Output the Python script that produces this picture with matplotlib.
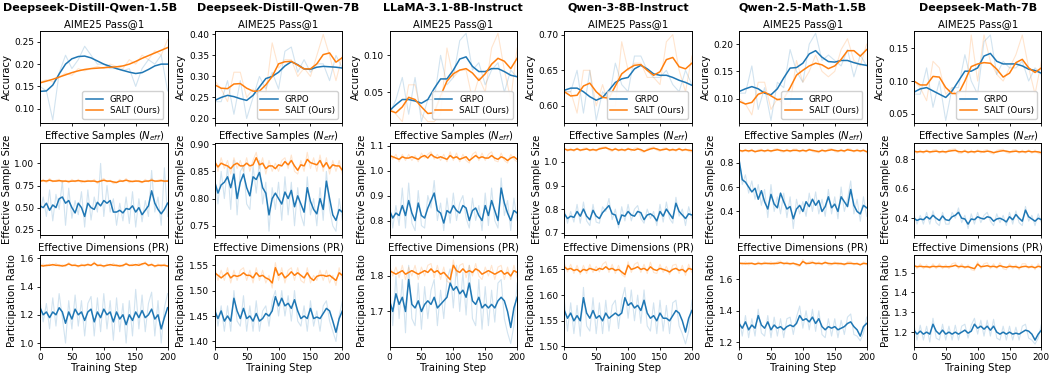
import numpy as np
import matplotlib
matplotlib.use("Agg")
import matplotlib.pyplot as plt

# ---------------------------------------------------------------- data
models = ["Deepseek-Distill-Qwen-1.5B", "Deepseek-Distill-Qwen-7B", "LLaMA-3.1-8B-Instruct",
          "Qwen-3-8B-Instruct", "Qwen-2.5-Math-1.5B", "Deepseek-Math-7B"]
row_titles = ["AIME25 Pass@1", "Effective Samples ($N_{eff}$)", "Effective Dimensions (PR)"]
row_ylabels = ["Accuracy", "Effective Sample Size", "Participation Ratio"]

eval_steps = list(range(0, 201, 10))   # AIME evaluated every 10 steps
train_steps = list(range(0, 201, 5))   # training metrics, sampled every 5 steps

# --- Deepseek-Distill-Qwen-1.5B
ds15_aime_grpo_raw = [0.15, 0.14, 0.075, 0.18, 0.22, 0.19, 0.21, 0.24, 0.22, 0.20, 0.20, 0.19, 0.19, 0.185, 0.19, 0.15, 0.19, 0.21, 0.20, 0.22, 0.14]
ds15_aime_grpo = [0.139, 0.140, 0.153, 0.178, 0.200, 0.212, 0.217, 0.218, 0.214, 0.207, 0.200, 0.195, 0.190, 0.186, 0.182, 0.179, 0.181, 0.188, 0.196, 0.200, 0.200]
ds15_aime_salt_raw = [0.16, 0.165, 0.16, 0.17, 0.18, 0.175, 0.19, 0.185, 0.19, 0.195, 0.19, 0.20, 0.195, 0.19, 0.21, 0.20, 0.22, 0.21, 0.23, 0.22, 0.255]
ds15_aime_salt = [0.158, 0.162, 0.166, 0.171, 0.176, 0.181, 0.185, 0.188, 0.190, 0.191, 0.192, 0.193, 0.194, 0.196, 0.200, 0.206, 0.213, 0.219, 0.225, 0.231, 0.237]
ds15_neff_grpo_raw = [0.45, 0.62, 0.40, 0.70, 0.35, 0.65, 0.48, 0.80, 0.30, 0.72, 0.38, 0.58, 0.42, 0.68, 0.28, 0.70, 0.36, 0.62, 0.45, 1.00, 0.40, 0.75, 0.45, 0.60, 0.30, 0.55, 0.35, 0.62, 0.32, 0.68, 0.28, 0.60, 0.34, 0.58, 0.40, 0.92, 0.45, 0.62, 0.30, 0.95, 0.40]
ds15_neff_grpo = [0.52, 0.50, 0.55, 0.47, 0.53, 0.50, 0.60, 0.62, 0.55, 0.58, 0.50, 0.44, 0.55, 0.50, 0.40, 0.55, 0.50, 0.48, 0.56, 0.52, 0.58, 0.55, 0.58, 0.45, 0.45, 0.47, 0.44, 0.49, 0.48, 0.52, 0.45, 0.50, 0.42, 0.47, 0.52, 0.69, 0.55, 0.48, 0.43, 0.48, 0.55]
ds15_neff_salt_raw = [0.79, 0.82, 0.78, 0.83, 0.79, 0.81, 0.82, 0.78, 0.81, 0.78, 0.82, 0.79, 0.82, 0.78, 0.80, 0.81, 0.79, 0.82, 0.77, 0.81, 0.83, 0.79, 0.81, 0.77, 0.78, 0.82, 0.79, 0.83, 0.78, 0.80, 0.81, 0.79, 0.78, 0.82, 0.79, 0.83, 0.79, 0.81, 0.82, 0.79, 0.81]
ds15_neff_salt = [0.80, 0.805, 0.80, 0.81, 0.80, 0.80, 0.805, 0.80, 0.80, 0.795, 0.80, 0.80, 0.805, 0.80, 0.795, 0.80, 0.80, 0.80, 0.79, 0.80, 0.81, 0.80, 0.80, 0.79, 0.785, 0.80, 0.80, 0.81, 0.80, 0.795, 0.80, 0.80, 0.79, 0.80, 0.80, 0.81, 0.80, 0.80, 0.805, 0.80, 0.80]
ds15_pr_grpo_raw = [1.30, 1.15, 1.28, 1.10, 1.32, 1.12, 1.35, 1.18, 1.00, 1.30, 1.10, 1.34, 1.12, 1.30, 1.05, 1.28, 1.33, 1.05, 1.32, 1.08, 1.35, 1.10, 1.30, 1.02, 1.32, 1.08, 1.28, 1.00, 1.30, 1.05, 1.38, 1.10, 1.34, 1.08, 1.28, 1.36, 1.05, 1.30, 1.00, 1.25, 1.35]
ds15_pr_grpo = [1.25, 1.20, 1.22, 1.18, 1.22, 1.20, 1.25, 1.22, 1.14, 1.22, 1.17, 1.24, 1.20, 1.22, 1.16, 1.22, 1.24, 1.15, 1.22, 1.18, 1.24, 1.20, 1.22, 1.15, 1.22, 1.17, 1.20, 1.13, 1.20, 1.16, 1.22, 1.18, 1.23, 1.18, 1.20, 1.24, 1.17, 1.20, 1.10, 1.18, 1.25]
ds15_pr_salt_raw = [1.54, 1.56, 1.54, 1.56, 1.545, 1.565, 1.54, 1.555, 1.54, 1.57, 1.545, 1.56, 1.535, 1.56, 1.54, 1.565, 1.545, 1.575, 1.54, 1.56, 1.535, 1.56, 1.545, 1.565, 1.54, 1.555, 1.54, 1.57, 1.545, 1.56, 1.545, 1.565, 1.55, 1.575, 1.54, 1.565, 1.535, 1.56, 1.54, 1.56, 1.54]
ds15_pr_salt = [1.55, 1.545, 1.55, 1.55, 1.555, 1.55, 1.55, 1.545, 1.55, 1.56, 1.55, 1.55, 1.545, 1.55, 1.55, 1.555, 1.55, 1.565, 1.55, 1.55, 1.545, 1.55, 1.555, 1.55, 1.55, 1.545, 1.55, 1.56, 1.55, 1.55, 1.555, 1.55, 1.56, 1.565, 1.55, 1.555, 1.545, 1.55, 1.55, 1.55, 1.545]

# --- Deepseek-Distill-Qwen-7B
ds7_aime_grpo_raw = [0.24, 0.24, 0.29, 0.21, 0.29, 0.20, 0.25, 0.30, 0.27, 0.31, 0.27, 0.36, 0.37, 0.31, 0.34, 0.31, 0.33, 0.33, 0.29, 0.35, 0.32]
ds7_aime_grpo = [0.243, 0.250, 0.255, 0.252, 0.247, 0.243, 0.255, 0.275, 0.295, 0.300, 0.310, 0.325, 0.335, 0.328, 0.318, 0.317, 0.322, 0.324, 0.323, 0.322, 0.320]
ds7_aime_salt_raw = [0.29, 0.27, 0.24, 0.31, 0.31, 0.25, 0.27, 0.25, 0.26, 0.38, 0.32, 0.34, 0.34, 0.30, 0.32, 0.30, 0.35, 0.40, 0.35, 0.29, 0.35]
ds7_aime_salt = [0.280, 0.272, 0.271, 0.282, 0.283, 0.272, 0.265, 0.265, 0.280, 0.300, 0.330, 0.335, 0.336, 0.327, 0.318, 0.318, 0.330, 0.352, 0.356, 0.334, 0.345]
ds7_neff_grpo_raw = [0.84, 0.79, 0.85, 0.80, 0.86, 0.78, 0.87, 0.77, 0.85, 0.86, 0.79, 0.78, 0.86, 0.81, 0.87, 0.79, 0.83, 0.74, 0.82, 0.78, 0.83, 0.76, 0.84, 0.77, 0.83, 0.75, 0.82, 0.77, 0.75, 0.84, 0.77, 0.80, 0.75, 0.82, 0.76, 0.85, 0.78, 0.75, 0.74, 0.80, 0.76]
ds7_neff_grpo = [0.83, 0.81, 0.825, 0.83, 0.84, 0.82, 0.845, 0.80, 0.83, 0.845, 0.82, 0.805, 0.84, 0.835, 0.848, 0.82, 0.81, 0.77, 0.80, 0.81, 0.80, 0.79, 0.812, 0.80, 0.815, 0.785, 0.805, 0.79, 0.775, 0.82, 0.795, 0.78, 0.772, 0.80, 0.78, 0.832, 0.80, 0.77, 0.76, 0.78, 0.775]
ds7_neff_salt_raw = [0.875, 0.85, 0.875, 0.855, 0.87, 0.845, 0.875, 0.855, 0.87, 0.85, 0.875, 0.85, 0.87, 0.885, 0.855, 0.875, 0.845, 0.87, 0.85, 0.865, 0.85, 0.87, 0.875, 0.855, 0.88, 0.85, 0.845, 0.87, 0.85, 0.885, 0.855, 0.875, 0.85, 0.88, 0.85, 0.875, 0.845, 0.87, 0.85, 0.87, 0.845]
ds7_neff_salt = [0.867, 0.858, 0.865, 0.862, 0.86, 0.855, 0.862, 0.865, 0.86, 0.86, 0.865, 0.86, 0.862, 0.875, 0.862, 0.865, 0.855, 0.86, 0.86, 0.855, 0.862, 0.86, 0.868, 0.862, 0.87, 0.86, 0.852, 0.862, 0.86, 0.872, 0.866, 0.864, 0.862, 0.87, 0.858, 0.866, 0.855, 0.862, 0.86, 0.86, 0.852]
ds7_pr_grpo_raw = [1.48, 1.43, 1.47, 1.42, 1.47, 1.42, 1.50, 1.44, 1.43, 1.49, 1.42, 1.47, 1.42, 1.48, 1.42, 1.46, 1.47, 1.43, 1.48, 1.50, 1.45, 1.50, 1.45, 1.49, 1.44, 1.50, 1.44, 1.43, 1.47, 1.42, 1.48, 1.43, 1.46, 1.42, 1.47, 1.48, 1.44, 1.42, 1.40, 1.45, 1.48]
ds7_pr_grpo = [1.46, 1.445, 1.46, 1.44, 1.45, 1.44, 1.485, 1.46, 1.445, 1.465, 1.445, 1.45, 1.44, 1.455, 1.44, 1.445, 1.455, 1.45, 1.46, 1.488, 1.47, 1.485, 1.47, 1.475, 1.465, 1.482, 1.46, 1.445, 1.45, 1.445, 1.465, 1.445, 1.448, 1.445, 1.455, 1.465, 1.46, 1.44, 1.418, 1.445, 1.46]
ds7_pr_salt_raw = [1.545, 1.52, 1.54, 1.52, 1.545, 1.515, 1.54, 1.52, 1.54, 1.545, 1.52, 1.54, 1.515, 1.545, 1.52, 1.54, 1.515, 1.53, 1.505, 1.555, 1.52, 1.545, 1.515, 1.54, 1.545, 1.52, 1.545, 1.52, 1.515, 1.545, 1.515, 1.53, 1.52, 1.54, 1.52, 1.54, 1.515, 1.53, 1.51, 1.545, 1.52]
ds7_pr_salt = [1.535, 1.53, 1.525, 1.53, 1.535, 1.525, 1.53, 1.528, 1.53, 1.535, 1.53, 1.53, 1.525, 1.535, 1.528, 1.53, 1.525, 1.522, 1.515, 1.545, 1.53, 1.535, 1.525, 1.53, 1.537, 1.53, 1.535, 1.53, 1.525, 1.535, 1.525, 1.52, 1.528, 1.53, 1.53, 1.528, 1.53, 1.525, 1.52, 1.535, 1.53]

# --- LLaMA-3.1-8B-Instruct
llama_aime_grpo_raw = [0.02, 0.04, 0.07, 0.02, 0.07, 0.01, 0.04, 0.04, 0.10, 0.06, 0.07, 0.12, 0.13, 0.08, 0.09, 0.06, 0.08, 0.09, 0.05, 0.08, 0.07]
llama_aime_grpo = [0.025, 0.033, 0.040, 0.040, 0.038, 0.035, 0.040, 0.055, 0.068, 0.068, 0.080, 0.095, 0.098, 0.085, 0.078, 0.078, 0.082, 0.082, 0.078, 0.073, 0.071]
llama_aime_salt_raw = [0.03, 0.02, 0.01, 0.06, 0.06, 0.02, 0.01, 0.01, 0.02, 0.11, 0.07, 0.08, 0.08, 0.04, 0.07, 0.05, 0.11, 0.13, 0.08, 0.04, 0.11]
llama_aime_salt = [0.025, 0.022, 0.030, 0.043, 0.040, 0.030, 0.021, 0.022, 0.045, 0.065, 0.075, 0.080, 0.082, 0.076, 0.066, 0.075, 0.088, 0.096, 0.092, 0.082, 0.096]
llama_neff_grpo_raw = [0.88, 0.77, 0.86, 0.78, 0.93, 0.77, 0.95, 0.79, 0.76, 0.92, 0.78, 0.77, 0.90, 0.85, 0.96, 0.80, 0.87, 0.76, 0.89, 0.79, 0.91, 0.80, 0.87, 0.90, 0.81, 0.77, 0.89, 0.80, 0.86, 0.76, 0.91, 0.78, 0.93, 0.80, 0.77, 0.97, 0.82, 0.88, 0.76, 0.89, 0.80]
llama_neff_grpo = [0.84, 0.81, 0.83, 0.82, 0.86, 0.82, 0.88, 0.83, 0.80, 0.87, 0.82, 0.81, 0.85, 0.88, 0.91, 0.84, 0.83, 0.79, 0.84, 0.83, 0.86, 0.84, 0.83, 0.86, 0.85, 0.80, 0.84, 0.85, 0.82, 0.80, 0.86, 0.82, 0.88, 0.84, 0.80, 0.93, 0.87, 0.83, 0.80, 0.84, 0.83]
llama_neff_salt_raw = [1.07, 1.045, 1.065, 1.035, 1.065, 1.04, 1.065, 1.04, 1.06, 1.035, 1.07, 1.05, 1.065, 1.075, 1.045, 1.065, 1.04, 1.065, 1.035, 1.075, 1.04, 1.07, 1.035, 1.065, 1.04, 1.03, 1.065, 1.075, 1.04, 1.07, 1.04, 1.065, 1.075, 1.04, 1.035, 1.07, 1.04, 1.03, 1.065, 1.045, 1.035]
llama_neff_salt = [1.06, 1.055, 1.05, 1.045, 1.055, 1.05, 1.05, 1.055, 1.05, 1.045, 1.055, 1.06, 1.05, 1.065, 1.055, 1.05, 1.055, 1.05, 1.045, 1.06, 1.05, 1.055, 1.045, 1.05, 1.055, 1.04, 1.05, 1.06, 1.05, 1.055, 1.05, 1.05, 1.06, 1.05, 1.045, 1.055, 1.05, 1.04, 1.05, 1.055, 1.045]
llama_pr_grpo_raw = [1.78, 1.66, 1.80, 1.68, 1.79, 1.64, 1.83, 1.68, 1.66, 1.78, 1.65, 1.77, 1.68, 1.76, 1.79, 1.66, 1.76, 1.68, 1.79, 1.82, 1.71, 1.83, 1.70, 1.81, 1.69, 1.83, 1.68, 1.66, 1.79, 1.65, 1.77, 1.66, 1.76, 1.67, 1.78, 1.79, 1.68, 1.64, 1.61, 1.66, 1.78]
llama_pr_grpo = [1.73, 1.70, 1.75, 1.72, 1.74, 1.70, 1.79, 1.72, 1.71, 1.73, 1.70, 1.72, 1.73, 1.72, 1.74, 1.71, 1.72, 1.73, 1.74, 1.78, 1.76, 1.77, 1.75, 1.76, 1.74, 1.78, 1.73, 1.72, 1.74, 1.71, 1.72, 1.71, 1.72, 1.71, 1.73, 1.74, 1.73, 1.70, 1.655, 1.71, 1.74]
llama_pr_salt_raw = [1.83, 1.80, 1.825, 1.795, 1.83, 1.79, 1.825, 1.80, 1.83, 1.79, 1.825, 1.80, 1.83, 1.835, 1.795, 1.83, 1.79, 1.825, 1.785, 1.78, 1.845, 1.80, 1.83, 1.835, 1.795, 1.83, 1.80, 1.835, 1.80, 1.79, 1.825, 1.80, 1.83, 1.79, 1.825, 1.83, 1.79, 1.825, 1.79, 1.83, 1.795]
llama_pr_salt = [1.815, 1.81, 1.805, 1.81, 1.815, 1.805, 1.81, 1.815, 1.81, 1.805, 1.81, 1.815, 1.81, 1.82, 1.81, 1.815, 1.805, 1.81, 1.80, 1.79, 1.83, 1.815, 1.81, 1.82, 1.81, 1.815, 1.81, 1.82, 1.815, 1.805, 1.81, 1.815, 1.81, 1.805, 1.81, 1.815, 1.805, 1.81, 1.80, 1.815, 1.81]

# --- Qwen-3-8B-Instruct
qwen3_aime_grpo_raw = [0.62, 0.62, 0.65, 0.59, 0.65, 0.58, 0.62, 0.61, 0.66, 0.63, 0.62, 0.67, 0.67, 0.65, 0.64, 0.64, 0.65, 0.63, 0.62, 0.65, 0.63]
qwen3_aime_grpo = [0.622, 0.625, 0.625, 0.620, 0.613, 0.608, 0.612, 0.622, 0.633, 0.638, 0.640, 0.652, 0.657, 0.652, 0.645, 0.643, 0.643, 0.640, 0.636, 0.633, 0.629]
qwen3_aime_salt_raw = [0.62, 0.62, 0.59, 0.65, 0.65, 0.60, 0.63, 0.60, 0.60, 0.69, 0.65, 0.66, 0.66, 0.64, 0.64, 0.63, 0.69, 0.70, 0.65, 0.62, 0.67]
qwen3_aime_salt = [0.620, 0.614, 0.615, 0.628, 0.632, 0.620, 0.612, 0.611, 0.628, 0.645, 0.652, 0.657, 0.658, 0.650, 0.643, 0.648, 0.665, 0.668, 0.655, 0.652, 0.660]
qwen3_neff_grpo_raw = [0.80, 0.74, 0.79, 0.745, 0.82, 0.74, 0.83, 0.75, 0.73, 0.82, 0.745, 0.74, 0.81, 0.79, 0.845, 0.755, 0.80, 0.72, 0.81, 0.75, 0.82, 0.75, 0.80, 0.815, 0.76, 0.74, 0.80, 0.76, 0.79, 0.73, 0.82, 0.745, 0.83, 0.76, 0.74, 0.85, 0.77, 0.80, 0.73, 0.81, 0.76]
qwen3_neff_grpo = [0.78, 0.76, 0.77, 0.765, 0.79, 0.77, 0.80, 0.77, 0.755, 0.795, 0.77, 0.76, 0.785, 0.80, 0.815, 0.78, 0.775, 0.735, 0.775, 0.77, 0.79, 0.775, 0.77, 0.79, 0.785, 0.755, 0.775, 0.78, 0.77, 0.75, 0.79, 0.77, 0.80, 0.78, 0.76, 0.825, 0.79, 0.775, 0.76, 0.78, 0.775]
qwen3_neff_salt_raw = [1.06, 1.045, 1.058, 1.044, 1.06, 1.045, 1.058, 1.06, 1.045, 1.058, 1.044, 1.06, 1.062, 1.065, 1.05, 1.044, 1.06, 1.045, 1.058, 1.044, 1.06, 1.046, 1.058, 1.06, 1.045, 1.04, 1.056, 1.06, 1.064, 1.05, 1.045, 1.058, 1.06, 1.045, 1.058, 1.044, 1.06, 1.045, 1.058, 1.044, 1.042]
qwen3_neff_salt = [1.055, 1.05, 1.052, 1.05, 1.055, 1.05, 1.052, 1.055, 1.05, 1.052, 1.05, 1.055, 1.058, 1.06, 1.055, 1.05, 1.055, 1.05, 1.052, 1.05, 1.055, 1.052, 1.05, 1.055, 1.052, 1.045, 1.05, 1.055, 1.058, 1.055, 1.05, 1.052, 1.055, 1.05, 1.052, 1.05, 1.055, 1.05, 1.052, 1.05, 1.048]
qwen3_pr_grpo_raw = [1.59, 1.53, 1.585, 1.525, 1.58, 1.52, 1.615, 1.54, 1.53, 1.595, 1.525, 1.585, 1.525, 1.59, 1.53, 1.58, 1.59, 1.535, 1.59, 1.615, 1.555, 1.61, 1.55, 1.60, 1.545, 1.61, 1.54, 1.53, 1.585, 1.525, 1.59, 1.53, 1.58, 1.525, 1.585, 1.59, 1.54, 1.525, 1.505, 1.53, 1.59]
qwen3_pr_grpo = [1.57, 1.555, 1.565, 1.55, 1.56, 1.55, 1.595, 1.565, 1.555, 1.57, 1.555, 1.56, 1.55, 1.565, 1.555, 1.56, 1.565, 1.56, 1.565, 1.595, 1.58, 1.585, 1.575, 1.58, 1.57, 1.59, 1.565, 1.555, 1.56, 1.55, 1.565, 1.555, 1.555, 1.55, 1.56, 1.57, 1.565, 1.55, 1.528, 1.555, 1.57]
qwen3_pr_salt_raw = [1.662, 1.645, 1.66, 1.642, 1.658, 1.64, 1.658, 1.642, 1.66, 1.644, 1.656, 1.645, 1.66, 1.665, 1.644, 1.66, 1.642, 1.658, 1.64, 1.635, 1.665, 1.644, 1.66, 1.664, 1.644, 1.66, 1.642, 1.664, 1.644, 1.642, 1.66, 1.644, 1.656, 1.64, 1.658, 1.66, 1.642, 1.658, 1.638, 1.66, 1.644]
qwen3_pr_salt = [1.655, 1.65, 1.652, 1.648, 1.65, 1.645, 1.65, 1.648, 1.652, 1.65, 1.648, 1.652, 1.65, 1.655, 1.65, 1.652, 1.648, 1.65, 1.645, 1.64, 1.658, 1.65, 1.652, 1.655, 1.65, 1.652, 1.648, 1.655, 1.65, 1.648, 1.652, 1.65, 1.648, 1.645, 1.65, 1.652, 1.648, 1.65, 1.645, 1.652, 1.65]

# --- Qwen-2.5-Math-1.5B
qm15_aime_grpo_raw = [0.11, 0.11, 0.16, 0.08, 0.12, 0.06, 0.13, 0.12, 0.19, 0.15, 0.13, 0.20, 0.22, 0.17, 0.18, 0.17, 0.16, 0.19, 0.14, 0.18, 0.16]
qm15_aime_grpo = [0.113, 0.118, 0.122, 0.118, 0.110, 0.107, 0.118, 0.138, 0.156, 0.157, 0.165, 0.182, 0.188, 0.176, 0.168, 0.167, 0.170, 0.170, 0.166, 0.163, 0.161]
qm15_aime_salt_raw = [0.10, 0.09, 0.07, 0.13, 0.13, 0.08, 0.10, 0.09, 0.09, 0.17, 0.13, 0.15, 0.18, 0.15, 0.14, 0.15, 0.19, 0.21, 0.17, 0.16, 0.20]
qm15_aime_salt = [0.095, 0.090, 0.093, 0.108, 0.112, 0.105, 0.098, 0.100, 0.120, 0.143, 0.152, 0.160, 0.165, 0.162, 0.155, 0.160, 0.172, 0.188, 0.188, 0.178, 0.190]
qm15_neff_grpo_raw = [0.85, 0.62, 0.70, 0.55, 0.65, 0.50, 0.62, 0.45, 0.58, 0.35, 0.62, 0.40, 0.52, 0.38, 0.55, 0.35, 0.52, 0.26, 0.50, 0.38, 0.48, 0.36, 0.55, 0.40, 0.56, 0.38, 0.50, 0.36, 0.58, 0.38, 0.52, 0.34, 0.60, 0.40, 0.50, 0.65, 0.38, 0.50, 0.32, 0.52, 0.36]
qm15_neff_grpo = [0.82, 0.66, 0.64, 0.60, 0.56, 0.59, 0.50, 0.57, 0.48, 0.42, 0.54, 0.46, 0.43, 0.55, 0.48, 0.42, 0.44, 0.34, 0.42, 0.45, 0.40, 0.48, 0.44, 0.50, 0.45, 0.49, 0.40, 0.44, 0.52, 0.43, 0.46, 0.40, 0.52, 0.48, 0.44, 0.58, 0.45, 0.40, 0.38, 0.45, 0.43]
qm15_neff_salt_raw = [0.91, 0.885, 0.91, 0.885, 0.91, 0.88, 0.905, 0.91, 0.885, 0.91, 0.885, 0.91, 0.915, 0.89, 0.885, 0.91, 0.885, 0.91, 0.91, 0.885, 0.91, 0.885, 0.915, 0.89, 0.885, 0.88, 0.91, 0.885, 0.91, 0.915, 0.89, 0.885, 0.91, 0.885, 0.915, 0.91, 0.885, 0.91, 0.885, 0.91, 0.88]
qm15_neff_salt = [0.90, 0.895, 0.90, 0.895, 0.90, 0.89, 0.895, 0.90, 0.895, 0.90, 0.895, 0.90, 0.905, 0.90, 0.895, 0.90, 0.895, 0.90, 0.90, 0.895, 0.90, 0.895, 0.905, 0.90, 0.895, 0.89, 0.90, 0.895, 0.90, 0.905, 0.90, 0.895, 0.90, 0.895, 0.905, 0.90, 0.895, 0.90, 0.895, 0.90, 0.89]
qm15_pr_grpo_raw = [1.36, 1.24, 1.37, 1.23, 1.35, 1.24, 1.41, 1.26, 1.24, 1.37, 1.23, 1.36, 1.24, 1.35, 1.23, 1.35, 1.36, 1.25, 1.36, 1.43, 1.29, 1.40, 1.28, 1.41, 1.27, 1.40, 1.25, 1.23, 1.35, 1.24, 1.35, 1.23, 1.34, 1.25, 1.36, 1.38, 1.25, 1.24, 1.21, 1.26, 1.36]
qm15_pr_grpo = [1.32, 1.29, 1.33, 1.28, 1.31, 1.29, 1.37, 1.31, 1.29, 1.33, 1.28, 1.31, 1.29, 1.30, 1.28, 1.30, 1.31, 1.30, 1.32, 1.37, 1.34, 1.35, 1.33, 1.36, 1.32, 1.35, 1.30, 1.28, 1.30, 1.29, 1.30, 1.28, 1.29, 1.30, 1.32, 1.33, 1.30, 1.28, 1.24, 1.30, 1.32]
qm15_pr_salt_raw = [1.71, 1.69, 1.71, 1.69, 1.705, 1.69, 1.71, 1.69, 1.71, 1.695, 1.71, 1.69, 1.71, 1.715, 1.69, 1.71, 1.69, 1.705, 1.685, 1.68, 1.725, 1.69, 1.71, 1.715, 1.69, 1.71, 1.69, 1.715, 1.69, 1.69, 1.71, 1.69, 1.705, 1.685, 1.71, 1.71, 1.69, 1.705, 1.685, 1.71, 1.69]
qm15_pr_salt = [1.70, 1.70, 1.698, 1.70, 1.70, 1.695, 1.70, 1.698, 1.70, 1.70, 1.698, 1.70, 1.70, 1.705, 1.70, 1.70, 1.698, 1.70, 1.695, 1.688, 1.712, 1.70, 1.70, 1.705, 1.70, 1.70, 1.698, 1.705, 1.70, 1.698, 1.70, 1.70, 1.698, 1.695, 1.70, 1.70, 1.698, 1.698, 1.692, 1.70, 1.698]

# --- Deepseek-Math-7B
dsm_aime_grpo_raw = [0.08, 0.08, 0.12, 0.06, 0.10, 0.04, 0.09, 0.09, 0.14, 0.10, 0.08, 0.16, 0.17, 0.11, 0.13, 0.12, 0.12, 0.13, 0.10, 0.12, 0.11]
dsm_aime_grpo = [0.083, 0.088, 0.090, 0.085, 0.080, 0.075, 0.085, 0.100, 0.115, 0.115, 0.120, 0.138, 0.142, 0.130, 0.126, 0.126, 0.126, 0.123, 0.118, 0.116, 0.112]
dsm_aime_salt_raw = [0.10, 0.09, 0.07, 0.13, 0.12, 0.08, 0.09, 0.07, 0.07, 0.17, 0.10, 0.17, 0.13, 0.11, 0.10, 0.12, 0.14, 0.17, 0.12, 0.08, 0.13]
dsm_aime_salt = [0.100, 0.094, 0.094, 0.107, 0.106, 0.090, 0.081, 0.081, 0.100, 0.122, 0.126, 0.128, 0.127, 0.118, 0.106, 0.112, 0.128, 0.133, 0.120, 0.113, 0.120]
dsm_neff_grpo_raw = [0.43, 0.36, 0.42, 0.36, 0.44, 0.36, 0.45, 0.37, 0.35, 0.44, 0.36, 0.36, 0.44, 0.40, 0.47, 0.37, 0.42, 0.33, 0.43, 0.36, 0.44, 0.37, 0.42, 0.44, 0.38, 0.35, 0.43, 0.37, 0.42, 0.35, 0.44, 0.36, 0.45, 0.37, 0.35, 0.48, 0.38, 0.42, 0.35, 0.43, 0.37]
dsm_neff_grpo = [0.40, 0.385, 0.395, 0.39, 0.41, 0.395, 0.42, 0.40, 0.385, 0.415, 0.39, 0.385, 0.41, 0.42, 0.44, 0.40, 0.395, 0.36, 0.395, 0.39, 0.41, 0.40, 0.395, 0.41, 0.405, 0.38, 0.395, 0.40, 0.39, 0.375, 0.41, 0.39, 0.425, 0.40, 0.38, 0.455, 0.41, 0.395, 0.38, 0.40, 0.39]
dsm_neff_salt_raw = [0.865, 0.84, 0.862, 0.84, 0.865, 0.84, 0.862, 0.865, 0.84, 0.862, 0.84, 0.865, 0.868, 0.87, 0.842, 0.84, 0.865, 0.838, 0.862, 0.84, 0.865, 0.842, 0.86, 0.865, 0.842, 0.835, 0.86, 0.865, 0.868, 0.845, 0.84, 0.862, 0.865, 0.84, 0.862, 0.84, 0.865, 0.84, 0.862, 0.84, 0.835]
dsm_neff_salt = [0.855, 0.85, 0.852, 0.85, 0.855, 0.85, 0.852, 0.855, 0.85, 0.852, 0.85, 0.855, 0.858, 0.86, 0.852, 0.85, 0.855, 0.848, 0.852, 0.85, 0.855, 0.852, 0.85, 0.855, 0.852, 0.845, 0.85, 0.855, 0.858, 0.855, 0.85, 0.852, 0.855, 0.85, 0.852, 0.85, 0.855, 0.85, 0.852, 0.85, 0.845]
dsm_pr_grpo_raw = [1.24, 1.16, 1.235, 1.16, 1.23, 1.15, 1.27, 1.17, 1.16, 1.24, 1.16, 1.23, 1.16, 1.235, 1.16, 1.23, 1.24, 1.17, 1.235, 1.27, 1.19, 1.26, 1.18, 1.26, 1.18, 1.265, 1.17, 1.16, 1.23, 1.16, 1.23, 1.16, 1.225, 1.16, 1.23, 1.24, 1.17, 1.16, 1.14, 1.17, 1.24]
dsm_pr_grpo = [1.21, 1.19, 1.205, 1.19, 1.20, 1.19, 1.24, 1.205, 1.19, 1.21, 1.19, 1.20, 1.19, 1.20, 1.19, 1.20, 1.21, 1.195, 1.205, 1.24, 1.22, 1.23, 1.215, 1.23, 1.21, 1.23, 1.20, 1.19, 1.20, 1.19, 1.20, 1.19, 1.195, 1.19, 1.20, 1.21, 1.205, 1.19, 1.16, 1.19, 1.21]
dsm_pr_salt_raw = [1.545, 1.52, 1.545, 1.52, 1.54, 1.52, 1.545, 1.52, 1.545, 1.52, 1.54, 1.52, 1.545, 1.55, 1.52, 1.545, 1.52, 1.54, 1.515, 1.51, 1.555, 1.52, 1.545, 1.55, 1.52, 1.545, 1.52, 1.55, 1.52, 1.515, 1.545, 1.52, 1.54, 1.515, 1.545, 1.545, 1.52, 1.54, 1.515, 1.545, 1.52]
dsm_pr_salt = [1.535, 1.53, 1.532, 1.53, 1.53, 1.528, 1.532, 1.53, 1.532, 1.53, 1.53, 1.53, 1.532, 1.537, 1.53, 1.532, 1.528, 1.53, 1.525, 1.52, 1.543, 1.53, 1.532, 1.535, 1.53, 1.532, 1.528, 1.535, 1.53, 1.527, 1.532, 1.53, 1.53, 1.525, 1.53, 1.532, 1.528, 1.53, 1.525, 1.532, 1.528]

# (grpo raw, grpo smoothed, salt raw, salt smoothed) per model, per row
series = [
    [(ds15_aime_grpo_raw, ds15_aime_grpo, ds15_aime_salt_raw, ds15_aime_salt),
     (ds15_neff_grpo_raw, ds15_neff_grpo, ds15_neff_salt_raw, ds15_neff_salt),
     (ds15_pr_grpo_raw, ds15_pr_grpo, ds15_pr_salt_raw, ds15_pr_salt)],
    [(ds7_aime_grpo_raw, ds7_aime_grpo, ds7_aime_salt_raw, ds7_aime_salt),
     (ds7_neff_grpo_raw, ds7_neff_grpo, ds7_neff_salt_raw, ds7_neff_salt),
     (ds7_pr_grpo_raw, ds7_pr_grpo, ds7_pr_salt_raw, ds7_pr_salt)],
    [(llama_aime_grpo_raw, llama_aime_grpo, llama_aime_salt_raw, llama_aime_salt),
     (llama_neff_grpo_raw, llama_neff_grpo, llama_neff_salt_raw, llama_neff_salt),
     (llama_pr_grpo_raw, llama_pr_grpo, llama_pr_salt_raw, llama_pr_salt)],
    [(qwen3_aime_grpo_raw, qwen3_aime_grpo, qwen3_aime_salt_raw, qwen3_aime_salt),
     (qwen3_neff_grpo_raw, qwen3_neff_grpo, qwen3_neff_salt_raw, qwen3_neff_salt),
     (qwen3_pr_grpo_raw, qwen3_pr_grpo, qwen3_pr_salt_raw, qwen3_pr_salt)],
    [(qm15_aime_grpo_raw, qm15_aime_grpo, qm15_aime_salt_raw, qm15_aime_salt),
     (qm15_neff_grpo_raw, qm15_neff_grpo, qm15_neff_salt_raw, qm15_neff_salt),
     (qm15_pr_grpo_raw, qm15_pr_grpo, qm15_pr_salt_raw, qm15_pr_salt)],
    [(dsm_aime_grpo_raw, dsm_aime_grpo, dsm_aime_salt_raw, dsm_aime_salt),
     (dsm_neff_grpo_raw, dsm_neff_grpo, dsm_neff_salt_raw, dsm_neff_salt),
     (dsm_pr_grpo_raw, dsm_pr_grpo, dsm_pr_salt_raw, dsm_pr_salt)],
]

# y ticks and limits per model (rows: AIME, Neff, PR)
yticks = [
    [[0.10, 0.15, 0.20, 0.25], [0.25, 0.50, 0.75, 1.00], [1.0, 1.2, 1.4, 1.6]],
    [[0.20, 0.25, 0.30, 0.35, 0.40], [0.75, 0.80, 0.85, 0.90], [1.40, 1.45, 1.50, 1.55]],
    [[0.05, 0.10], [0.8, 0.9, 1.0, 1.1], [1.7, 1.8]],
    [[0.60, 0.65, 0.70], [0.7, 0.8, 0.9, 1.0], [1.50, 1.55, 1.60, 1.65]],
    [[0.10, 0.15, 0.20], [0.4, 0.6, 0.8], [1.2, 1.4, 1.6]],
    [[0.05, 0.10, 0.15], [0.4, 0.6, 0.8], [1.2, 1.3, 1.4, 1.5]],
]
ylims = [
    [(0.068, 0.274), (0.19, 1.23), (0.972, 1.623)],
    [(0.189, 0.408), (0.733, 0.902), (1.389, 1.570)],
    [(0.008, 0.133), (0.742, 1.110), (1.600, 1.859)],
    [(0.576, 0.705), (0.690, 1.080), (1.499, 1.678)],
    [(0.055, 0.224), (0.207, 0.960), (1.171, 1.753)],
    [(0.036, 0.176), (0.286, 0.910), (1.125, 1.589)],
]

GRPO_C = "#1f77b4"
SALT_C = "#ff7f0e"

fig, axes = plt.subplots(3, 6, figsize=(10.53, 3.79), dpi=100)
fig.subplots_adjust(left=0.038, right=0.989, top=0.918, bottom=0.0844,
                    wspace=0.37, hspace=0.217)

title_x = [0.086, None, None, None, None, None]

for c, model in enumerate(models):
    for r in range(3):
        ax = axes[r, c]
        g_raw, g_s, s_raw, s_s = series[c][r]
        xs = eval_steps if r == 0 else train_steps
        ax.plot(xs, g_raw, color=GRPO_C, lw=0.8, alpha=0.2)
        ax.plot(xs, s_raw, color=SALT_C, lw=0.8, alpha=0.2)
        ax.plot(xs, g_s, color=GRPO_C, lw=1.1, label="GRPO")
        ax.plot(xs, s_s, color=SALT_C, lw=1.1, label="SALT (Ours)")

        ax.set_xlim(0, 200)
        ax.set_xticks([0, 50, 100, 150, 200])
        ax.set_yticks(yticks[c][r])
        ax.set_ylim(*ylims[c][r])
        ax.tick_params(labelsize=6.5, length=2.5, width=0.6, pad=1.5)
        for sp in ax.spines.values():
            sp.set_linewidth(0.7)
        ax.set_title(row_titles[r], fontsize=7.3, pad=3)
        ax.set_ylabel(row_ylabels[r], fontsize=7.3, labelpad=2)
        if r < 2:
            ax.set_xticklabels([])
        else:
            ax.set_xlabel("Training Step", fontsize=7.3, labelpad=1)
        if r == 0:
            ax.legend(loc="lower right", fontsize=6.2, handlelength=2.0,
                      borderpad=0.4, labelspacing=0.3, framealpha=0.9)

    pos = axes[0, c].get_position()
    tx = title_x[c] if title_x[c] is not None else (pos.x0 + pos.x1) / 2
    fig.text(tx, 0.979, model, ha="center", va="center", fontsize=8, fontweight="bold")

fig.savefig("out.png", dpi=100)
